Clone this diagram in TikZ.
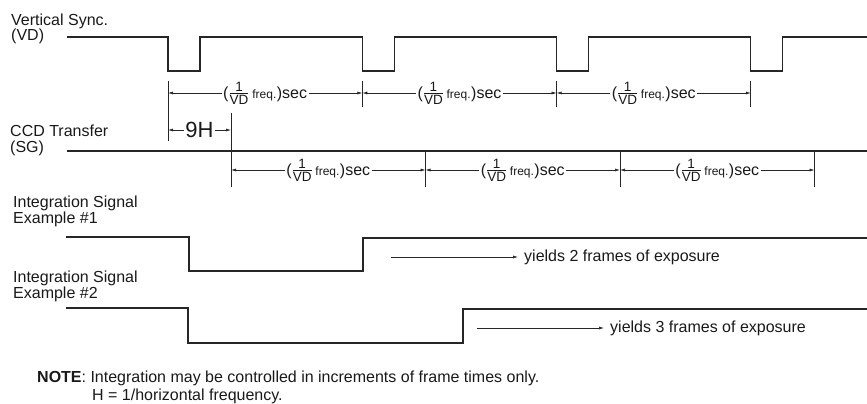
\documentclass[tikz,border=0pt]{standalone}
\usepackage{amsmath}
\usepackage{fontspec}
\setmainfont{Liberation Sans}
\usetikzlibrary{arrows.meta}

% one frame period label
\newcommand{\vdsec}{(\(\frac{\hbox{\fontsize{13.5}{12}\selectfont 1}}{\hbox{\fontsize{13.5}{12}\selectfont VD}}\)\,{\fontsize{12}{11}\selectfont freq.}\kern0.5pt)sec}

\begin{document}
\begin{tikzpicture}[x=1pt,y=-1pt,
  every node/.style={font=\fontsize{16}{15.5}\selectfont, text=black!90},
  sig/.style={line width=1.1pt, black!85, line join=miter},
  tick/.style={line width=0.9pt, black!85},
  dim/.style={line width=0.6pt, black!85, -{Latex[length=5pt,width=3pt]}},
  lbl/.style={anchor=base west, inner sep=0pt, align=left},
  per/.style={inner xsep=1.5pt, inner ysep=0pt}]
  \useasboundingbox (0,0) rectangle (867,404);

  % signal names (base = last line)
  \node[lbl] (vdname) at (11,41) {Vertical Sync.\\(VD)};
  \node[lbl] (sgname) at (10,152) {CCD Transfer\\(SG)};
  \node[lbl] (ioname) at (13,223) {Integration Signal\\Example \#1};
  \node[lbl] (itname) at (13,298) {Integration Signal\\Example \#2};

  % VD: one low pulse per frame
  \draw[sig] (67,37) \foreach \i in {0,...,3} {
      -- (168+194.3*\i,37) -- (168+194.3*\i,71) -- (200+194.3*\i,71) -- (200+194.3*\i,37)}
    -- (867,37);

  % SG
  \draw[sig] (67,151) -- (867,151);

  % VD frame period
  \draw[tick] (168,81) -- (168,141);
  \foreach \i in {1,...,3}
    \draw[tick] (168+194.3*\i,81) -- (168+194.3*\i,107);
  \foreach \i in {0,...,3}
    \coordinate (va\i) at (168+194.3*\i,93);
  \foreach \i/\j in {0/1,1/2,2/3} {
    \node[per] (vp\i) at (265.15+194.3*\i,93) {\vdsec};
    \draw[dim] (vp\i.west) -- (va\i);
    \draw[dim] (vp\i.east) -- (va\j);
  }

  % 9H delay
  \coordinate (h0) at (168,130);
  \coordinate (h1) at (231,130);
  \node[per, font=\fontsize{22}{22}\selectfont] (nineh) at (199.5,130) {9H};
  \draw[dim] (nineh.west) -- (h0);
  \draw[dim] (nineh.east) -- (h1);

  % SG frame period
  \draw[tick] (231,113) -- (231,187);
  \foreach \i in {1,...,3}
    \draw[tick] (231+194.5*\i,151) -- (231+194.5*\i,187);
  \foreach \i in {0,...,3}
    \coordinate (sa\i) at (231+194.5*\i,170);
  \foreach \i/\j in {0/1,1/2,2/3} {
    \node[per] (sp\i) at (328.25+194.5*\i,170) {\vdsec};
    \draw[dim] (sp\i.west) -- (sa\i);
    \draw[dim] (sp\i.east) -- (sa\j);
  }

  % integration example #1
  \draw[sig] (66,237) -- (189,237) -- (189,271) -- (363,271) -- (363,238) -- (867,238);
  \coordinate (e1) at (391,257);
  \node[anchor=west, inner xsep=6pt, inner ysep=0pt] (y1) at (518,257) {yields 2 frames of exposure};
  \draw[dim] (e1) -- (y1.west);

  % integration example #2
  \draw[sig] (66,308) -- (188,308) -- (188,343) -- (463,343) -- (463,309) -- (867,309);
  \coordinate (e2) at (477,328);
  \node[anchor=west, inner xsep=6pt, inner ysep=0pt] (y2) at (604,328) {yields 3 frames of exposure};
  \draw[dim] (e2) -- (y2.west);

  % note
  \node[lbl] (note) at (37,382) {\textbf{NOTE}: Integration may be controlled in increments of frame times only.};
  \node[lbl] (hdef) at (92,400) {H = 1/horizontal frequency.};
\end{tikzpicture}
\end{document}
